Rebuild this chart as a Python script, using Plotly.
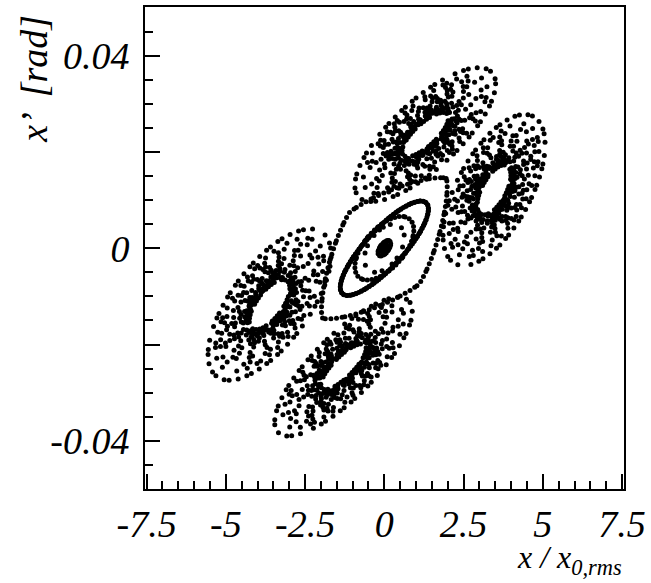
import numpy as np
import plotly.graph_objects as go

# ---------------------------------------------------------------
# Phase-space portrait (x, x') near a fourth-order resonance.
# Every invariant curve is described by its centre, its half extent
# in x and in x', and the x-x' correlation of the curve.
# ---------------------------------------------------------------

# four resonance islands (top, right, bottom, left)
island_x = [1.29, 3.46, -1.29, -3.62]
island_xp = [0.0236, 0.0121, -0.0246, -0.0117]
island_ax = [2.22, 1.61, 2.17, 1.94]
island_axp = [0.0139, 0.0157, 0.0144, 0.0157]
island_corr = [0.76, 0.60, 0.80, 0.66]

# nested curves inside each island, relative to its outer boundary,
# with the number of iterates and the rotation number on each curve
island_ring_scale = [1.00, 0.88, 0.80, 0.72, 0.65, 0.58, 0.52, 0.47, 0.43, 0.39, 0.36, 0.33]
island_ring_pts = [52, 36, 34, 30, 28, 28, 26, 28, 32, 36, 38, 30]
island_ring_tune = [0.6180, 0.4142, 0.7320, 0.2360, 0.6457, 0.3166,
                    0.5437, 0.4721, 0.2071, 0.7958, 0.3852, 0.5677]

# curves around the central fixed point
core_ax = [0.08, 0.20, 0.63, 0.93, 1.39]
core_axp = [0.0008, 0.0016, 0.0050, 0.0066, 0.0098]
core_corr = [0.60, 0.60, 0.45, 0.58, 0.83]
core_pts = [10, 24, 14, 48, 170]
core_tune = [0.618, 0.618, 0.618, 0.128, 0.618]

# inner separatrix: half diagonals towards the hyperbolic points
sep_dx = [1.95, -1.10]
sep_dxp = [0.0145, 0.0074]
sep_pts = 88
sep_tune = 1 / 22 + 0.0006

# axis ticks
x_ticks = [-7.5, -5, -2.5, 0, 2.5, 5, 7.5]
x_ticktext = ["-7.5", "-5", "-2.5", "0", "2.5", "5", "7.5"]
y_ticks = [-0.04, -0.02, 0, 0.02, 0.04]
y_ticktext = ["-0.04", "", "0", "", "0.04"]

X_RANGE = [-7.55, 7.56]
Y_RANGE = [-0.05, 0.0501]
X_SPAN = X_RANGE[1] - X_RANGE[0]
Y_SPAN = Y_RANGE[1] - Y_RANGE[0]


def spread_along(cx, cy, fx, fy, n, tune, phase):
    """Place n iterates along a closed curve, evenly in arc length (axis-normalised)."""
    t = np.linspace(0, 2 * np.pi, 721)
    gx, gy = fx(t), fy(t)
    seg = np.hypot(np.diff(gx) / X_SPAN, np.diff(gy) / Y_SPAN)
    s = np.concatenate([[0.0], np.cumsum(seg)])
    k = np.arange(n)
    f = ((k * tune + phase) % 1.0) * s[-1]
    tk = np.interp(f, s, t)
    return cx + fx(tk), cy + fy(tk)


def orbit(cx, cy, ax, ay, corr, n, tune, phase=0.0):
    """Iterates of a quasi-periodic orbit sampled on one invariant ellipse."""
    d = np.arccos(corr)
    return spread_along(cx, cy, lambda t: ax * np.cos(t), lambda t: ay * np.cos(t - d),
                        n, tune, phase)


xs, ys = [], []

for j, (s, n, q) in enumerate(zip(island_ring_scale, island_ring_pts, island_ring_tune)):
    for i in range(4):
        px, py = orbit(island_x[i], island_xp[i], s * island_ax[i], s * island_axp[i],
                       island_corr[i], n, q, 0.31 * j + 0.23 * i)
        xs.append(px)
        ys.append(py)

for j in range(len(core_ax)):
    px, py = orbit(0.0, 0.0, core_ax[j], core_axp[j], core_corr[j], core_pts[j],
                   core_tune[j], 0.11 * j)
    xs.append(px)
    ys.append(py)
xs.append(np.array([0.0]))
ys.append(np.array([0.0]))

# separatrix through the four hyperbolic points
p = 1.55


def _u(t):
    return np.sign(np.cos(t)) * np.abs(np.cos(t)) ** p


def _v(t):
    return np.sign(np.sin(t)) * np.abs(np.sin(t)) ** p


px, py = spread_along(0.0, 0.0,
                      lambda t: _u(t) * sep_dx[0] + _v(t) * sep_dx[1],
                      lambda t: _u(t) * sep_dxp[0] + _v(t) * sep_dxp[1],
                      sep_pts, sep_tune, 0.0)
xs.append(px)
ys.append(py)

x_all = np.concatenate(xs)
y_all = np.concatenate(ys)

fig = go.Figure()
fig.add_trace(go.Scatter(
    x=x_all, y=y_all, mode="markers",
    marker=dict(color="black", size=5, symbol="circle", line=dict(width=0)),
    hoverinfo="skip", showlegend=False,
))

serif = "Liberation Serif, Times New Roman, serif"
tick_font = dict(family=serif, size=38, color="black", style="italic")

fig.update_layout(
    width=651, height=583,
    margin=dict(l=145, r=23, t=5, b=94),
    paper_bgcolor="white", plot_bgcolor="white",
    font=dict(family=serif, color="black"),
    xaxis=dict(
        range=X_RANGE, showgrid=False, zeroline=False,
        showline=True, mirror=True, linecolor="black", linewidth=2,
        ticks="inside", ticklen=15, tickwidth=1.5, tickcolor="black",
        tickmode="array", tickvals=x_ticks, ticktext=x_ticktext,
        tickfont=tick_font,
        minor=dict(ticks="inside", ticklen=8, tickwidth=1.5, tickcolor="black",
                   dtick=0.5, tick0=0),
    ),
    yaxis=dict(
        range=Y_RANGE, showgrid=False, zeroline=False,
        showline=True, mirror=True, linecolor="black", linewidth=2,
        ticks="inside", ticklen=15, tickwidth=1.5, tickcolor="black",
        tickmode="array", tickvals=y_ticks, ticktext=y_ticktext,
        tickfont=tick_font, ticklabelstandoff=6,
        minor=dict(ticks="inside", ticklen=8, tickwidth=1.5, tickcolor="black",
                   dtick=0.005, tick0=0),
    ),
    annotations=[
        dict(text="x’  [rad]", xref="paper", yref="paper", x=-0.232, y=0.851,
             xanchor="center", yanchor="middle", textangle=-90, showarrow=False,
             font=dict(family=serif, size=38, style="italic", color="black")),
        dict(text="x / x<sub>0,rms</sub>", xref="paper", yref="paper", x=1.0, y=-0.192,
             xanchor="right", yanchor="bottom", showarrow=False,
             font=dict(family=serif, size=32, style="italic", color="black")),
    ],
)

fig.write_html("out.html")
